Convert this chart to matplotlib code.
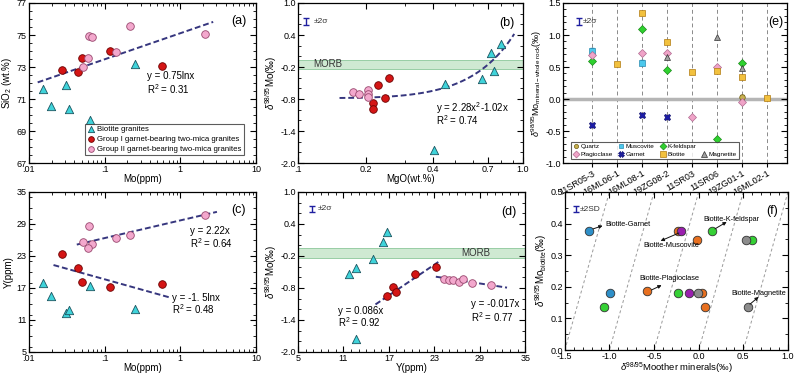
import numpy as np
import matplotlib
matplotlib.use('Agg')
import matplotlib.pyplot as plt
from matplotlib.ticker import MultipleLocator, NullFormatter, FixedLocator
from matplotlib.lines import Line2D

plt.rcParams['font.family'] = ['Liberation Sans', 'DejaVu Sans']
plt.rcParams['mathtext.fontset'] = 'custom'
plt.rcParams['mathtext.rm'] = 'Liberation Sans'
plt.rcParams['mathtext.it'] = 'Liberation Sans:italic'

# ---- data: Mo vs SiO2 / Y (panels a, c)
bio_mo = [0.0153, 0.0194, 0.0312, 0.0338, 0.0649, 0.25]
bio_sio2 = [71.63, 70.57, 71.88, 70.38, 69.7, 73.16]
bio_y = [17.9, 15.4, 12.3, 12.9, 17.3, 13.0]

g1_mo = [0.0276, 0.045, 0.0498, 0.117, 0.58]
g1_sio2 = [72.81, 72.66, 73.58, 74.01, 73.08]
g1_y = [23.4, 20.7, 18.2, 17.2, 17.8]

g2_mo = [0.0622, 0.0675, 0.0518, 0.0603, 0.143, 0.215, 2.09]
g2_sio2 = [74.95, 74.86, 73.02, 73.58, 73.93, 75.57, 75.05]
g2_y = [28.6, 25.2, 25.6, 24.4, 26.3, 26.9, 30.6]

# ---- data: MgO vs d98Mo (panel b)
bio_mgo = [0.403, 0.453, 0.66, 0.723, 0.748, 0.80]
bio_dmo_b = [-1.76, -0.525, -0.43, 0.07, -0.275, 0.24]
g1_mgo = [0.255, 0.226, 0.245, 0.216, 0.216]
g1_dmo_b = [-0.41, -0.54, -0.78, -0.88, -0.98]
g2_mgo = [0.176, 0.186, 0.205, 0.205, 0.205]
g2_dmo_b = [-0.66, -0.70, -0.63, -0.71, -0.76]

# ---- data: Y vs d98Mo (panel d)
bio_yd = [11.7, 12.6, 12.6, 14.9, 16.25, 16.7]
bio_dmo_d = [-0.544, -0.42, -1.76, -0.26, 0.058, 0.24]
g1_yd = [16.8, 17.5, 17.9, 20.4, 23.2]
g1_dmo_d = [-0.95, -0.79, -0.88, -0.54, -0.40]
g2_yd = [24.3, 25.0, 25.5, 26.2, 26.8, 28.0, 30.45]
g2_dmo_d = [-0.63, -0.66, -0.66, -0.68, -0.64, -0.70, -0.745]

# trend lines (fitted, as drawn)
fit_a = (0.708, 75.11, 0.0131, 2.72)        # a*ln(x)+b, x range
fit_b = (1.98, -0.544, -0.743, 0.153, 0.916)  # a*x^2+b*x+c
fit_c_up = (1.44, 29.65, 0.043, 3.05)
fit_c_lo = (-1.72, 14.66, 0.0212, 0.71)
fit_d_red = (15.23, -1.11, 23.75, -0.293)
fit_d_pink = (23.2, -0.59, 32.6, -0.795)
morb = (-0.235, -0.06)

# ---- data: mineral - whole rock (panel e)
samples = ['11SR05-3', '16ML06-1', '16ML08-1', '19ZG08-2', '11SR03', '11SR06', '19ZG01-1', '16ML02-1']
e_quartz = {6: 0.03}
e_musc = {0: 0.75, 2: 0.57}
e_kfs = {0: 0.59, 2: 1.10, 3: 0.45, 5: -0.62, 6: 0.57}
e_plag = {0: 0.68, 2: 0.726, 3: 0.726, 4: -0.28, 5: 0.50, 6: -0.05}
e_grt = {0: -0.41, 2: -0.247, 3: -0.28}
e_bt = {1: 0.543, 2: 1.35, 3: 0.883, 4: 0.43, 5: 0.44, 6: 0.34, 7: 0.02}
e_mag = {3: 0.66, 5: 0.97, 6: 0.48}

# ---- data: biotite vs other minerals (panel f)
f_grt_x = [-1.23, -0.99]
f_grt_y = [0.376, 0.18]
f_kfs_x = [-1.06, -0.235, 0.153, 0.60]
f_kfs_y = [0.137, 0.18, 0.376, 0.348]
f_plag_x = [-0.58, 0.04, 0.071, -0.231, -0.019]
f_plag_y = [0.187, 0.18, 0.137, 0.376, 0.348]
f_musc_x = [-0.112, -0.20]
f_musc_y = [0.18, 0.376]
f_mag_x = [-0.007, 0.526, 0.556]
f_mag_y = [0.18, 0.348, 0.137]
f_iso = [1.5, 1.0, 0.5, 0.0, -0.5]

# axis ticks
ticks_sio2 = [67, 69, 71, 73, 75, 77]
ticks_y = [5, 11, 17, 23, 29, 35]
ticks_dmo = [-2.0, -1.4, -0.8, -0.2, 0.4, 1.0]

C_BIO, E_BIO = '#3fd3da', '#1b5560'
C_G1, E_G1 = '#d41515', '#6b0000'
C_G2, E_G2 = '#f3a8cd', '#98476e'
C_FIT = '#36367e'
FS = 6.5
LFS = 7

fig = plt.figure(figsize=(8, 3.74), dpi=100)
ax_a = fig.add_axes([0.036, 0.564, 0.284, 0.428])
ax_b = fig.add_axes([0.3725, 0.564, 0.281, 0.428])
ax_e = fig.add_axes([0.704, 0.564, 0.28, 0.428])
ax_c = fig.add_axes([0.036, 0.059, 0.284, 0.428])
ax_d = fig.add_axes([0.3725, 0.059, 0.284, 0.428])
ax_f = fig.add_axes([0.706, 0.064, 0.279, 0.423])


def style(ax, right=True, top=True):
    ax.tick_params(which='both', direction='in', top=top, right=right, labelsize=FS, pad=1.5)
    ax.tick_params(which='major', length=4)
    ax.tick_params(which='minor', length=2)
    for s in ax.spines.values():
        s.set_linewidth(0.9)


def groups(ax, xs):
    (bx, by), (rx, ry), (px, py) = xs
    ax.scatter(bx, by, s=36, marker='^', c=C_BIO, edgecolors=E_BIO, linewidths=0.6, zorder=3,
               label='Biotite granites')
    ax.scatter(rx, ry, s=30, marker='o', c=C_G1, edgecolors=E_G1, linewidths=0.6, zorder=3,
               label='Group I garnet-bearing two-mica granites')
    ax.scatter(px, py, s=30, marker='o', c=C_G2, edgecolors=E_G2, linewidths=0.6, zorder=3,
               label='Group II garnet-bearing two-mica granites')


def errsym(ax, x, y, dy, label, tx):
    ax.errorbar([x], [y], yerr=[dy], fmt='none', ecolor='#1f1fa0', elinewidth=1, capsize=2)
    ax.text(tx, y, label, fontsize=6, va='center', ha='left', color='#333333')


def logmo(ax):
    ax.set_xscale('log')
    ax.set_xlim(0.01, 10)
    ax.xaxis.set_major_locator(FixedLocator([0.01, 0.1, 1, 10]))
    ax.set_xticklabels(['.01', '.1', '1', '10'])
    ax.xaxis.set_minor_formatter(NullFormatter())
    ax.set_xlabel('Mo(ppm)', fontsize=LFS, labelpad=0)


def dmo_axis(ax):
    ax.set_ylim(-2.0, 1.0)
    ax.set_yticks(ticks_dmo)
    ax.set_yticklabels(['%.1f' % t for t in ticks_dmo])
    ax.yaxis.set_minor_locator(MultipleLocator(0.2))
    ax.set_ylabel(r'$\delta^{98/95}$Mo(‰)', fontsize=LFS, labelpad=1)


# ---- (a)
groups(ax_a, [(bio_mo, bio_sio2), (g1_mo, g1_sio2), (g2_mo, g2_sio2)])
xa = np.geomspace(fit_a[2], fit_a[3], 50)
ax_a.plot(xa, fit_a[0] * np.log(xa) + fit_a[1], ls=(0, (3, 1.5)), color=C_FIT, lw=1.4)
logmo(ax_a)
ax_a.set_ylim(67, 77)
ax_a.set_yticks(ticks_sio2)
ax_a.yaxis.set_minor_locator(MultipleLocator(0.5))
ax_a.set_ylabel('SiO$_2$ (wt.%)', fontsize=LFS, labelpad=2)
ax_a.text(0.52, 0.545, 'y = 0.75lnx', transform=ax_a.transAxes, fontsize=LFS, va='center')
ax_a.text(0.52, 0.46, 'R$^2$ = 0.31', transform=ax_a.transAxes, fontsize=LFS, va='center')
ax_a.text(0.925, 0.885, '(a)', transform=ax_a.transAxes, fontsize=9, ha='center', va='center')
leg = ax_a.legend(loc='lower right', bbox_to_anchor=(0.965, 0.025), fontsize=5.6, frameon=True,
                  fancybox=False, edgecolor='#333333', handletextpad=0.3, borderpad=0.3,
                  labelspacing=0.3, handlelength=1.0, scatterpoints=1, markerscale=0.75)
leg.get_frame().set_linewidth(0.8)
style(ax_a)

# ---- (b)
ax_b.axhspan(morb[0], morb[1], color='#cfe9d2', ec='#8cc79a', lw=0.6, zorder=1)
groups(ax_b, [(bio_mgo, bio_dmo_b), (g1_mgo, g1_dmo_b), (g2_mgo, g2_dmo_b)])
xb = np.linspace(fit_b[3], fit_b[4], 60)
ax_b.plot(xb, fit_b[0] * xb ** 2 + fit_b[1] * xb + fit_b[2], ls=(0, (3, 1.5)), color=C_FIT, lw=1.4)
ax_b.set_xscale('log')
ax_b.set_xlim(0.1, 1.0)
ax_b.xaxis.set_major_locator(FixedLocator([0.1, 0.2, 0.4, 0.7, 1.0]))
ax_b.set_xticklabels(['.1', '0.2', '0.4', '0.7', '1.0'])
ax_b.xaxis.set_minor_formatter(NullFormatter())
dmo_axis(ax_b)
ax_b.set_xlabel('MgO(wt.%)', fontsize=LFS, labelpad=0)
ax_b.text(0.117, -0.15, 'MORB', fontsize=LFS, va='center', color='#333333')
ax_b.text(0.613, 0.345, 'y = 2.28x$^2$-1.02x', transform=ax_b.transAxes, fontsize=LFS, va='center')
ax_b.text(0.613, 0.266, 'R$^2$ = 0.74', transform=ax_b.transAxes, fontsize=LFS, va='center')
ax_b.text(0.93, 0.875, '(b)', transform=ax_b.transAxes, fontsize=9, ha='center', va='center')
errsym(ax_b, 0.109, 0.655, 0.06, '±2σ', 0.117)
style(ax_b)

# ---- (c)
groups(ax_c, [(bio_mo, bio_y), (g1_mo, g1_y), (g2_mo, g2_y)])
for a, b, x0, x1 in (fit_c_up, fit_c_lo):
    xc = np.geomspace(x0, x1, 50)
    ax_c.plot(xc, a * np.log(xc) + b, ls=(0, (3, 1.5)), color=C_FIT, lw=1.4)
logmo(ax_c)
ax_c.set_ylim(5, 35)
ax_c.set_yticks(ticks_y)
ax_c.yaxis.set_minor_locator(MultipleLocator(2))
ax_c.set_ylabel('Y(ppm)', fontsize=LFS, labelpad=2)
ax_c.text(0.71, 0.756, 'y = 2.22x', transform=ax_c.transAxes, fontsize=LFS, va='center')
ax_c.text(0.71, 0.679, 'R$^2$ = 0.64', transform=ax_c.transAxes, fontsize=LFS, va='center')
ax_c.text(0.63, 0.34, 'y = -1. 5lnx', transform=ax_c.transAxes, fontsize=LFS, va='center')
ax_c.text(0.63, 0.265, 'R$^2$ = 0.48', transform=ax_c.transAxes, fontsize=LFS, va='center')
ax_c.text(0.925, 0.885, '(c)', transform=ax_c.transAxes, fontsize=9, ha='center', va='center')
style(ax_c)

# ---- (d)
ax_d.axhspan(morb[0], morb[1], color='#cfe9d2', ec='#8cc79a', lw=0.6, zorder=1)
groups(ax_d, [(bio_yd, bio_dmo_d), (g1_yd, g1_dmo_d), (g2_yd, g2_dmo_d)])
for x0, y0, x1, y1 in (fit_d_red, fit_d_pink):
    ax_d.plot([x0, x1], [y0, y1], ls=(0, (3, 1.5)), color=C_FIT, lw=1.4)
ax_d.set_xlim(5, 35)
ax_d.set_xticks(ticks_y)
ax_d.xaxis.set_minor_locator(MultipleLocator(1))
dmo_axis(ax_d)
ax_d.set_xlabel('Y(ppm)', fontsize=LFS, labelpad=0)
ax_d.text(26.6, -0.15, 'MORB', fontsize=LFS, va='center', color='#333333')
ax_d.text(0.178, 0.256, 'y = 0.086x', transform=ax_d.transAxes, fontsize=LFS, va='center')
ax_d.text(0.178, 0.185, 'R$^2$ = 0.92', transform=ax_d.transAxes, fontsize=LFS, va='center')
ax_d.text(0.76, 0.30, 'y = -0.017x', transform=ax_d.transAxes, fontsize=LFS, va='center')
ax_d.text(0.76, 0.22, 'R$^2$ = 0.77', transform=ax_d.transAxes, fontsize=LFS, va='center')
ax_d.text(0.93, 0.875, '(d)', transform=ax_d.transAxes, fontsize=9, ha='center', va='center')
errsym(ax_d, 6.85, 0.68, 0.06, '±2σ', 7.6)
style(ax_d)

# ---- (e)
for i in range(len(samples)):
    ax_e.axvline(i, color='#8a8a8a', ls=(0, (4, 3)), lw=0.7, zorder=0)
ax_e.axhline(0, color='#b5b5b5', lw=2.5, zorder=1)
mk = [
    (e_quartz, 'o', '#c8b050', '#6b5a10', 4, 'Quartz', True),
    (e_musc, 's', '#4cc8ec', '#2a8ab0', 4, 'Muscovite', True),
    (e_kfs, 'D', '#2fd12f', '#1a8a1a', 4.5, 'K-feldspar', False),
    (e_plag, 'D', '#f0a4c8', '#b06a90', 4.5, 'Plagioclase', False),
    (e_grt, 'X', '#1c1ca8', '#101070', 5, 'Garnet', False),
    (e_bt, 's', '#f2c13e', '#b07a10', 5, 'Biotite', False),
    (e_mag, '^', '#a0a0a0', '#333333', 5, 'Magnetite', False),
]
handles = {}
for d, m, fc, ec, ms, lab, err in mk:
    xs = list(d.keys())
    ys = list(d.values())
    if err:
        ax_e.errorbar(xs, ys, yerr=0.04, fmt='none', ecolor=ec, elinewidth=0.8, capsize=1.5, zorder=3)
    ax_e.plot(xs, ys, ls='none', marker=m, ms=ms, mfc=fc, mec=ec, mew=0.5, zorder=4)
    handles[lab] = Line2D([], [], ls='none', marker=m, ms=ms - 1, mfc=fc, mec=ec, mew=0.5)
blank = Line2D([], [], ls='none')
order = ['Quartz', 'Plagioclase', 'Muscovite', 'Garnet', 'K-feldspar', 'Biotite']
hl = [handles[k] for k in order] + [blank, handles['Magnetite']]
ll = order + ['', 'Magnetite']
leg = ax_e.legend(hl, ll, ncol=4, loc='lower left', bbox_to_anchor=(0.02, 0.005), fontsize=4.6,
                  frameon=True, fancybox=False, edgecolor='#333333', handletextpad=0.2,
                  columnspacing=0.8, borderpad=0.3, labelspacing=0.35, handlelength=1.0)
leg.get_frame().set_linewidth(0.8)
ax_e.set_xlim(-1.15, 7.81)
ax_e.set_ylim(-1.0, 1.5)
ax_e.set_xticks(range(len(samples)))
ax_e.set_xticklabels(samples, rotation=30, ha='right', rotation_mode='anchor', fontsize=5.6)
ax_e.yaxis.set_major_locator(MultipleLocator(0.5))
ax_e.yaxis.set_minor_locator(MultipleLocator(0.1))
ax_e.yaxis.set_major_formatter(plt.FormatStrFormatter('%.1f'))
ax_e.set_ylabel(r'$\delta^{98/95}$Mo$_{\mathregular{mineral-whole\ rock}}$(‰)', fontsize=6.5, labelpad=1)
ax_e.text(0.95, 0.88, '(e)', transform=ax_e.transAxes, fontsize=9, ha='center', va='center')
errsym(ax_e, -0.53, 1.21, 0.06, '±2σ', -0.35)
style(ax_e, top=False)
ax_e.tick_params(axis='x', which='both', direction='out', length=3, pad=1)

# ---- (f)
xi = np.array([-1.5, 1.0])
for c in f_iso:
    ax_f.plot(xi, xi + c, color='#9a9a9a', ls=(0, (3, 2.5)), lw=0.7, zorder=1)
for xs, ys, fc in [(f_grt_x, f_grt_y, '#2e8fc8'), (f_kfs_x, f_kfs_y, '#35d035'),
                   (f_plag_x, f_plag_y, '#e87020'), (f_musc_x, f_musc_y, '#9a1fae'),
                   (f_mag_x, f_mag_y, '#8c8c8c')]:
    ax_f.scatter(xs, ys, s=38, c=fc, edgecolors='#333333', linewidths=0.6, zorder=3)
ap = dict(arrowstyle='-|>', color='#111111', lw=0.7, mutation_scale=5, shrinkA=0, shrinkB=0)
ax_f.annotate('', xy=(-1.077, 0.393), xytext=(-1.183, 0.383), arrowprops=ap)
ax_f.text(-1.044, 0.398, 'Biotite-Garnet', fontsize=5.3, va='center', ha='left')
ax_f.annotate('', xy=(-0.427, 0.345), xytext=(-0.222, 0.37), arrowprops=ap)
ax_f.text(-0.31, 0.332, 'Biotite-Muscovite', fontsize=5.3, va='center', ha='center')
ax_f.annotate('', xy=(0.313, 0.405), xytext=(0.182, 0.383), arrowprops=ap)
ax_f.text(0.37, 0.413, 'Biotite-K-feldspar', fontsize=5.3, va='center', ha='center')
ax_f.annotate('', xy=(-0.416, 0.205), xytext=(-0.528, 0.19), arrowprops=ap)
ax_f.text(-0.334, 0.225, 'Biotite-Plagioclase', fontsize=5.3, va='center', ha='center')
ax_f.annotate('', xy=(0.671, 0.168), xytext=(0.574, 0.145), arrowprops=ap)
ax_f.text(0.668, 0.179, 'Biotite-Magnetite', fontsize=5.3, va='center', ha='center')
ax_f.set_xlim(-1.5, 1.0)
ax_f.set_ylim(0.0, 0.5)
ax_f.xaxis.set_major_locator(MultipleLocator(0.5))
ax_f.xaxis.set_minor_locator(MultipleLocator(0.1))
ax_f.yaxis.set_major_locator(MultipleLocator(0.1))
ax_f.yaxis.set_minor_locator(MultipleLocator(0.05))
ax_f.xaxis.set_major_formatter(plt.FormatStrFormatter('%.1f'))
ax_f.yaxis.set_major_formatter(plt.FormatStrFormatter('%.1f'))
ax_f.set_xlabel(r'$\delta^{98/95}$Moother minerals(‰)', fontsize=6.8, labelpad=-0.5)
ax_f.set_ylabel(r'$\delta^{98/95}$Mo$_{\mathregular{biotite}}$(‰)', fontsize=LFS, labelpad=1)
ax_f.text(0.93, 0.88, '(f)', transform=ax_f.transAxes, fontsize=9, ha='center', va='center')
ax_f.errorbar([-1.377], [0.445], yerr=[0.01], fmt='none', ecolor='#1f1fa0', elinewidth=1, capsize=2)
ax_f.text(-1.33, 0.445, '±2SD', fontsize=6, va='center', ha='left', color='#333333')
style(ax_f)

fig.savefig('out.png', dpi=100)
